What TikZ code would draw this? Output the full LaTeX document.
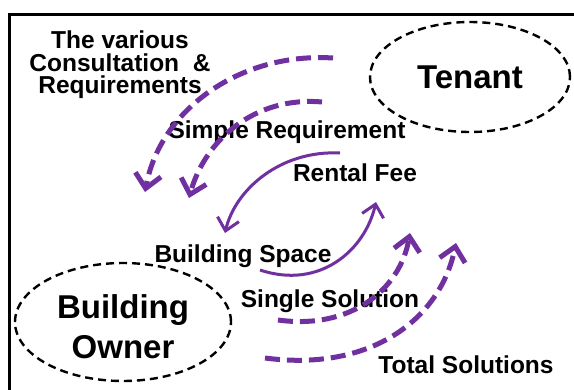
\documentclass[tikz,border=0pt]{standalone}
\usepackage{fontspec}
\setmainfont{Liberation Sans}
\usetikzlibrary{arrows.meta,shapes.geometric}
\definecolor{purp}{HTML}{7030A0}
\tikzset{
  ell/.style={draw, dashed, line width=2.4pt, dash pattern=on 8pt off 5pt, ellipse, inner sep=0pt},
  lbl/.style={font=\bfseries\fontsize{24.5}{22.5}\selectfont, align=center, inner sep=0pt},
  big/.style={font=\bfseries\fontsize{33}{40}\selectfont, align=center, inner sep=0pt},
  dflow/.style={draw=purp, line width=5pt, dash pattern=on 15pt off 7pt, -{Straight Barb[length=14pt,width=26pt,line width=5pt]}},
  sflow/.style={draw=purp, line width=3pt, -{Straight Barb[length=12pt,width=22pt,line width=3pt]}}
}
\begin{document}
\begin{tikzpicture}[x=1pt,y=-1pt]
\useasboundingbox (0,0) rectangle (574,389);
\fill[white] (0,0) rectangle (574,389);
\draw[line width=3pt] (9,395) -- (9,14) -- (580,14);
\node[ell, minimum width=200pt, minimum height=110pt] (tenant) at (470,77) {};
\node[big] at (tenant.center) {Tenant};
\node[ell, minimum width=216pt, minimum height=118pt] (owner) at (123,322) {};
\node[big] at (123,327) {Building\\Owner};
\node[lbl] (cons) at (120,65) {The various\\Consultation \ \&\\Requirements};
\node[lbl] (simple) at (287,132) {Simple Requirement};
\node[lbl] (rent) at (355,173) {Rental Fee};
\node[lbl] (space) at (243,256) {Building Space};
\node[lbl] (single) at (330,301) {Single Solution};
\node[lbl] (total) at (466,365) {Total Solutions};
\coordinate (a1) at (333,58); \coordinate (b1) at (145,192);
\coordinate (a2) at (322,102); \coordinate (b2) at (189,198);
\coordinate (a3) at (340,153); \coordinate (b3) at (225,233);
\coordinate (a4) at (260,270); \coordinate (b4) at (376,202);
\coordinate (a5) at (278,320); \coordinate (b5) at (410,233);
\coordinate (a6) at (265,358); \coordinate (b6) at (456,243);
\draw[dflow] (a1) .. controls (240,52) and (160,110) .. (b1);
\draw[dflow] (a2) .. controls (255,96) and (205,140) .. (b2);
\draw[sflow] (a3) .. controls (280,150) and (235,190) .. (b3);
\draw[sflow] (a4) .. controls (320,290) and (365,250) .. (b4);
\draw[dflow] (a5) .. controls (350,330) and (400,290) .. (b5);
\draw[dflow] (a6) .. controls (370,372) and (440,320) .. (b6);
\end{tikzpicture}
\end{document}
